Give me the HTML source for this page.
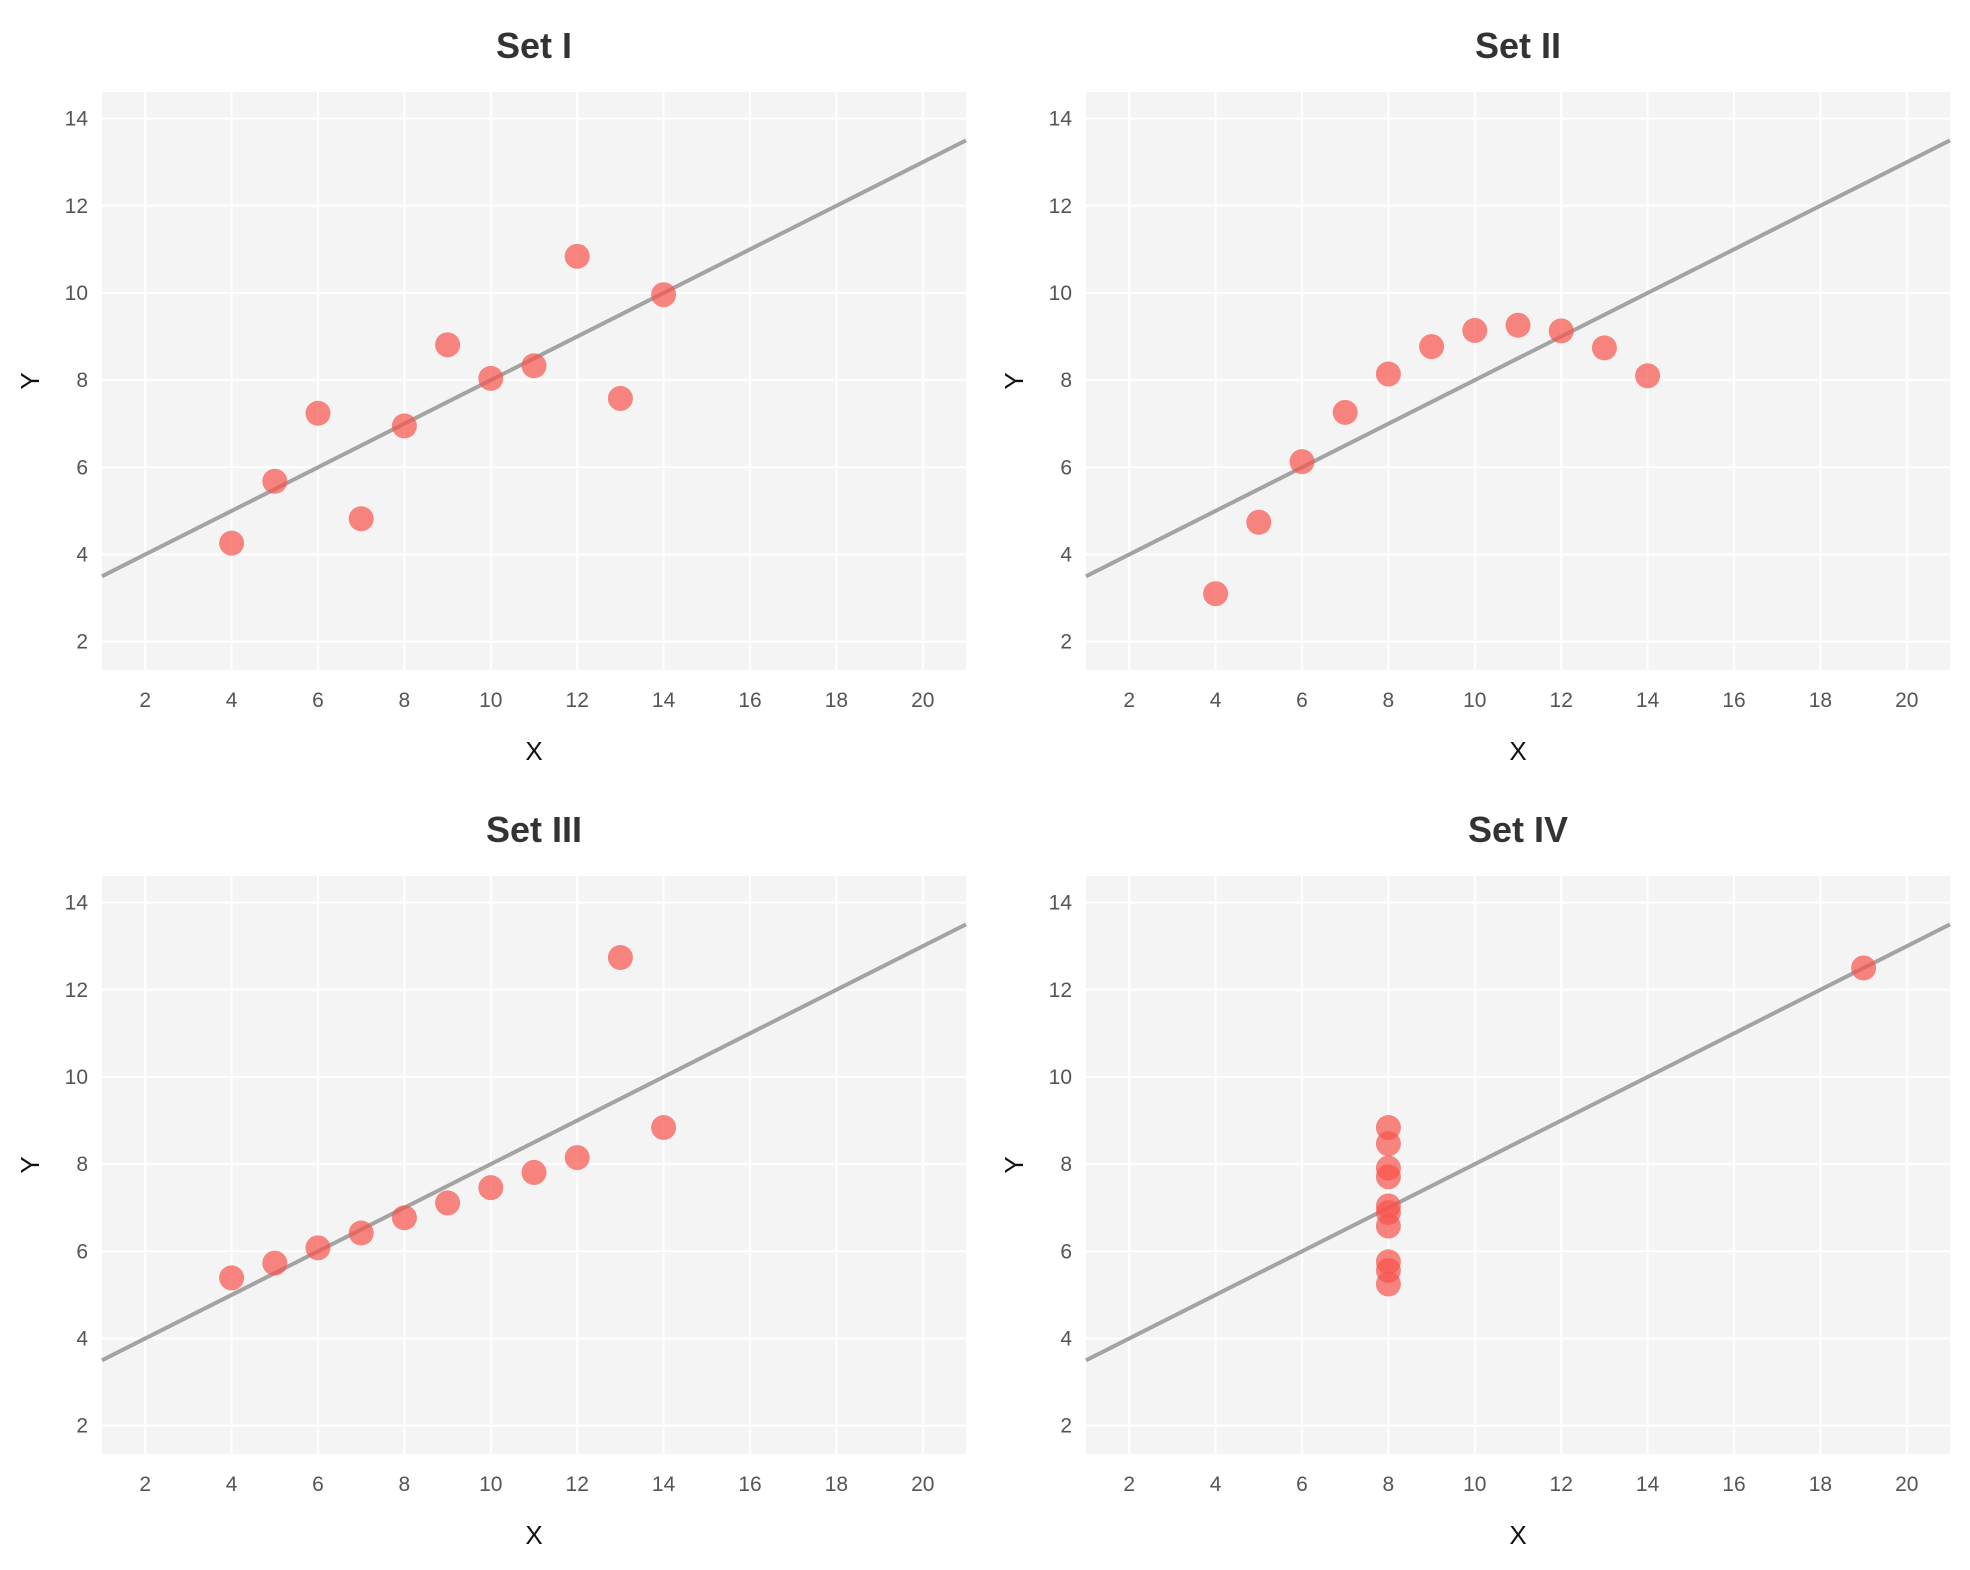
<!DOCTYPE html>
<html><head><meta charset="utf-8">
<style>
html,body{margin:0;padding:0;background:#fff;}
svg{display:block;font-family:"Liberation Sans","DejaVu Sans",sans-serif;}
</style></head>
<body>
<svg id="chart" width="1970" height="1570" viewBox="0 0 1970 1570" xmlns="http://www.w3.org/2000/svg"></svg>
<script>
const setTitles = ["Set I", "Set II", "Set III", "Set IV"];
const xI = [10, 8, 13, 9, 11, 14, 6, 4, 12, 7, 5];
const yI = [8.04, 6.95, 7.58, 8.81, 8.33, 9.96, 7.24, 4.26, 10.84, 4.82, 5.68];
const xII = [10, 8, 13, 9, 11, 14, 6, 4, 12, 7, 5];
const yII = [9.14, 8.14, 8.74, 8.77, 9.26, 8.10, 6.13, 3.10, 9.13, 7.26, 4.74];
const xIII = [10, 8, 13, 9, 11, 14, 6, 4, 12, 7, 5];
const yIII = [7.46, 6.77, 12.74, 7.11, 7.81, 8.84, 6.08, 5.39, 8.15, 6.42, 5.73];
const xIV = [8, 8, 8, 8, 8, 8, 8, 19, 8, 8, 8];
const yIV = [6.58, 5.76, 7.71, 8.84, 8.47, 7.04, 5.25, 12.50, 5.56, 7.91, 6.89];
const fitIntercept = [3, 3, 3, 3];
const fitSlope = [0.5, 0.5, 0.5, 0.5];
const xTicks = [2, 4, 6, 8, 10, 12, 14, 16, 18, 20];
const yTicks = [2, 4, 6, 8, 10, 12, 14];
const xDomain = [1, 21];
const yDomain = [1.35, 14.61];

const NS = "http://www.w3.org/2000/svg";
const svg = document.getElementById("chart");
const xsAll = [xI, xII, xIII, xIV];
const ysAll = [yI, yII, yIII, yIV];
const origins = [[0, 0], [984, 0], [0, 784], [984, 784]];
const PL = 102, PR = 966, PT = 92, PB = 670;

function mk(tag, attrs, parent) {
  const e = document.createElementNS(NS, tag);
  for (const k in attrs) e.setAttribute(k, attrs[k]);
  parent.appendChild(e);
  return e;
}

for (let p = 0; p < 4; p++) {
  const [ox, oy] = origins[p];
  const sx = v => ox + PL + (v - xDomain[0]) / (xDomain[1] - xDomain[0]) * (PR - PL);
  const sy = v => oy + PB - (v - yDomain[0]) / (yDomain[1] - yDomain[0]) * (PB - PT);
  const g = mk("g", {}, svg);
  
  

  const t = mk("text", {x: ox + (PL + PR) / 2, y: oy + 58, "text-anchor": "middle", "font-size": 36, "font-weight": "bold", fill: "#333"}, g);
  t.textContent = setTitles[p];
  
  

  const bg = mk("rect", {x: ox + PL, y: oy + PT, width: PR - PL, height: PB - PT, fill: "#f4f4f4"}, g);
  
  

  xTicks.forEach(v => {
    const l = mk("line", {x1: sx(v), x2: sx(v), y1: oy + PT, y2: oy + PB + 8, stroke: "#fff", "stroke-width": 2}, g);
    
    
    const tx = mk("text", {x: sx(v), y: oy + 707, "text-anchor": "middle", "font-size": 21, fill: "#555"}, g);
    tx.textContent = v;
    
    
  });
  yTicks.forEach(v => {
    const l = mk("line", {x1: ox + PL - 8, x2: ox + PR, y1: sy(v), y2: sy(v), stroke: "#fff", "stroke-width": 2}, g);
    
    
    const ty = mk("text", {x: ox + 88, y: sy(v) + 7, "text-anchor": "end", "font-size": 21, fill: "#555"}, g);
    ty.textContent = v;
    
    
  });

  const x0 = xDomain[0], x1 = xDomain[1];
  const fl = mk("line", {x1: sx(x0), y1: sy(fitIntercept[p] + fitSlope[p] * x0), x2: sx(x1), y2: sy(fitIntercept[p] + fitSlope[p] * x1), stroke: "#a3a3a3", "stroke-width": 4}, g);
  
  

  const xs = xsAll[p], ys = ysAll[p];
  for (let i = 0; i < xs.length; i++) {
    const c = mk("circle", {cx: sx(xs[i]), cy: sy(ys[i]), r: 12.5, fill: "#f8524b", "fill-opacity": 0.7}, g);
    
    
  }

  const xt = mk("text", {x: ox + (PL + PR) / 2, y: oy + 760, "text-anchor": "middle", "font-size": 26, fill: "#111"}, g);
  xt.textContent = "X";
  
  
  const cy = oy + (PT + PB) / 2;
  const yt = mk("text", {x: ox + 30, y: cy, "text-anchor": "middle", "font-size": 26, fill: "#111", transform: "rotate(-90 " + (ox + 30) + " " + cy + ")", dy: 9}, g);
  yt.textContent = "Y";
  
  
}
</script>
</body></html>
